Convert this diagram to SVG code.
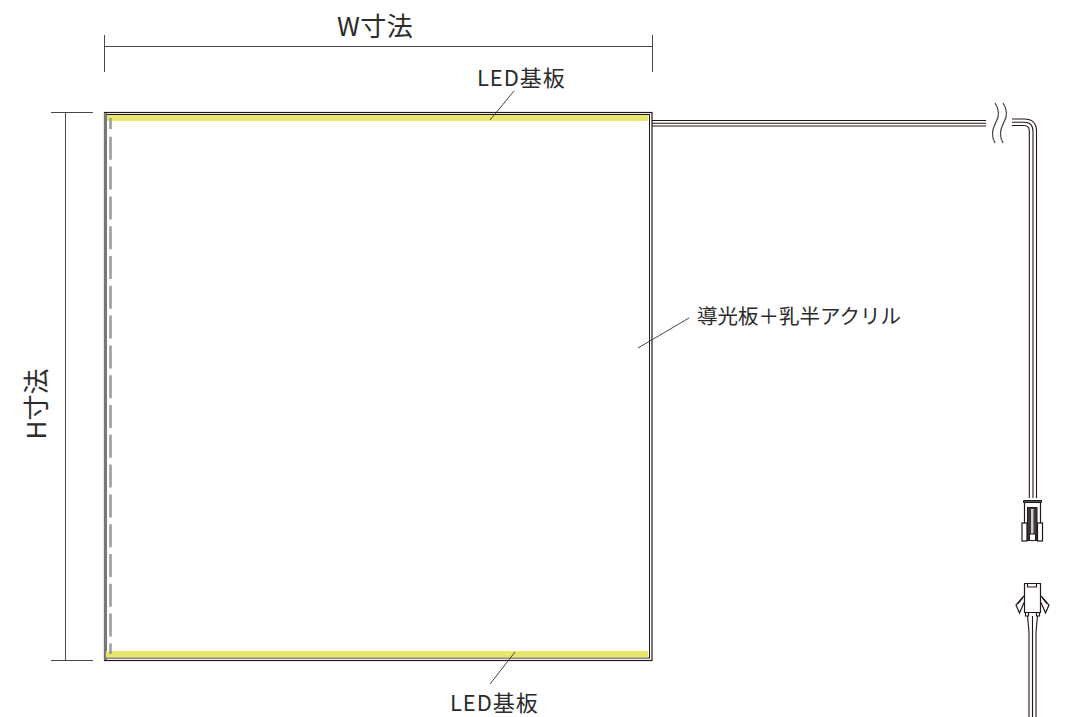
<svg xmlns="http://www.w3.org/2000/svg" width="1065" height="717" viewBox="0 0 1065 717">
<style>
text{font-family:"Noto Sans CJK JP","Noto Sans",sans-serif;fill:#2b2b2b}
.l{fill:none;stroke:#333;stroke-width:.9}
.w{fill:none;stroke:#231815;stroke-width:1.100}
.c{fill:none;stroke:#231815;stroke-width:1.200}
.y{fill:#e8e66e}
</style>
<rect width="1065" height="717" fill="#fff"/>
<g id="panel">
<rect x="104.500" y="112.500" width="547.500" height="548" fill="#fff" stroke="#231815" stroke-width="1.200"/>
<rect x="106.500" y="114.500" width="543" height="543.500" fill="none" stroke="#231815" stroke-width="1"/>
<rect x="104" y="113" width="3" height="547" fill="#777"/>
<rect class="y" x="107" y="115" width="541" height="6"/>
<rect class="y" x="106" y="651" width="542" height="6.500"/>
<line x1="110.500" y1="118" x2="110.500" y2="654" stroke="#999" stroke-width="2.500" stroke-dasharray="11 7.800 23 6.800 23 6.800 23 6.800 23 6.800 23 6.800 23 6.800 23 6.800 23 6.800 23 6.800 23 6.800 23 6.800 23 6.800 23 6.800 23 6.800 23 6.800 23 6.800 23 6.800"/>
</g>
<g id="connectors">
<path class="l" d="M104.500 35V72M652.500 35V72M104.500 46.500H652.500"/>
<path class="l" d="M51 112.500H93M51 660.500H93M65.500 112.500V660.500"/>
<path class="l" d="M514 91L490 120M515 652L490 684M689 318L638 348"/>
</g>
<g id="cable">
<path class="w" d="M652 120.500H986M652 123.300H986M652 126H986"/>
<path class="w" d="M1012 119H1024Q1036.500 119 1036.500 131V498M1012 122.300H1024Q1033 122.300 1033 131V498M1012 125.500H1024Q1029.300 125.500 1029.300 131V498"/>
<path fill="none" stroke="#444" stroke-width="1.200" d="M995 103C999.500 110 999.500 116 996 122C992 130 991 136 995 143M1003 103C1007.500 110 1007.500 116 1004 122C1000 130 999 136 1003 143"/>
</g>
<g id="plug-top">
<path d="M1023.500 500.500H1041.500V502.500H1023.500Z" fill="#555" stroke="#231815"/>
<path class="c" d="M1024.500 502V523M1040.500 502V523"/>
<rect x="1022" y="523" width="5" height="18" fill="#fff" stroke="#231815" stroke-width="1.200"/>
<rect x="1037.500" y="523" width="5" height="18" fill="#fff" stroke="#231815" stroke-width="1.200"/>
<rect x="1027.500" y="507.500" width="9.500" height="33" fill="#3a3a3a" stroke="#231815"/>
<rect x="1031" y="509" width="2.500" height="25" fill="#ccc"/>
<rect x="1029.500" y="534" width="6" height="6.500" fill="#fff" stroke="#231815"/>
</g>
<g id="plug-bottom">
<path class="c" d="M1024.500 583.500H1040.500V612.500H1024.500Z"/>
<path class="c" d="M1027.500 584V587H1036.500V584"/>
<path class="c" d="M1024 596L1016 605L1019.500 613L1024 602.500M1041 596L1049 605L1045.500 613L1041 602.500"/>
<path class="c" d="M1018 603.500L1022.500 598M1047 603.500L1042.500 598"/>
<path class="c" d="M1025.500 612.500V616H1028.500V612.500M1036.500 612.500V616H1039.500V612.500"/>
<path class="w" d="M1027.500 616L1029 632V717M1032.500 616V717M1037.500 616L1036 632V717"/>
</g>
<g id="labels">
<text x="337" y="36" font-size="26" letter-spacing=".4">W寸法</text>
<text x="477" y="86" font-size="22" letter-spacing=".9">LED基板</text>
<text x="450" y="711" font-size="22" letter-spacing=".9">LED基板</text>
<text x="697" y="324" font-size="20.500">導光板＋乳半アクリル</text>
<text transform="translate(46 404) rotate(-90)" font-size="26" text-anchor="middle">H寸法</text>
</g>
</svg>
